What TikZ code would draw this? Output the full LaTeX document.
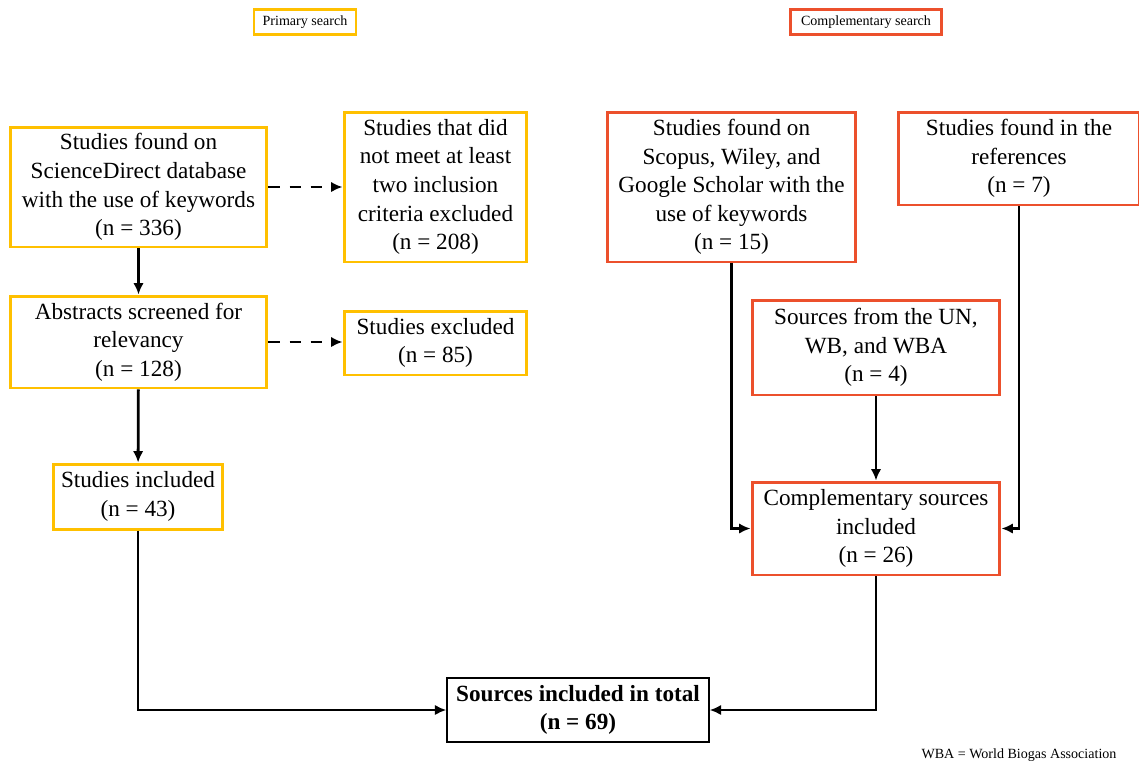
\documentclass[tikz,border=0pt]{standalone}
\usepackage{fontspec}
\setmainfont{Liberation Serif}
\usetikzlibrary{arrows.meta, positioning}
\definecolor{primgold}{RGB}{255,192,0}
\definecolor{compred}{RGB}{236,80,44}

\begin{document}
\begin{tikzpicture}[x=0.02cm, y=-0.02cm,
    box/.style={draw, line width=1.7pt, align=center, inner sep=1pt, font=\fontsize{13.2}{16.3}\selectfont},
    prim/.style={box, draw=primgold},
    comp/.style={box, draw=compred},
    tag/.style={draw, line width=1.3pt, inner sep=2pt, minimum height=0.5cm, font=\fontsize{8}{9}\selectfont},
    flow/.style={line width=1.6pt, -{Latex[length=2.3mm, width=2.1mm]}},
    skip/.style={flow, dash pattern=on 6.5pt off 5.5pt}]
  \useasboundingbox (0,0) rectangle (1139,762);
  % legend
  \node[tag, draw=primgold, minimum width=2.04cm] (primtag) at (305,22) {Primary search};
  \node[tag, draw=compred, minimum width=3.02cm] (comptag) at (866,22) {Complementary search};
  % primary search
  \node[prim, minimum width=5.14cm, minimum height=2.4cm] (found) at (138.5,187)
    {Studies found on\\ ScienceDirect database\\ with the use of keywords\\ (n = 336)};
  \node[prim, minimum width=3.66cm, minimum height=3cm] (notmeet) at (435.5,187)
    {Studies that did\\ not meet at least\\ two inclusion\\ criteria excluded\\ (n = 208)};
  \node[prim, minimum width=5.14cm, minimum height=1.84cm] (abstracts) at (138.5,342)
    {Abstracts screened for\\ relevancy\\ (n = 128)};
  \node[prim, minimum width=3.66cm, minimum height=1.28cm] (excluded) at (435.5,343)
    {Studies excluded\\ (n = 85)};
  \node[prim, minimum width=3.4cm, minimum height=1.3cm] (included) at (138,496.5)
    {Studies included\\ (n = 43)};
  % complementary search
  \node[comp, minimum width=4.98cm, minimum height=3cm] (scopus) at (731.5,187)
    {Studies found on\\ Scopus, Wiley, and\\ Google Scholar with the\\ use of keywords\\ (n = 15)};
  \node[comp, minimum width=4.82cm, minimum height=1.86cm] (refs) at (1019,158.5)
    {Studies found in the\\ references\\ (n = 7)};
  \node[comp, minimum width=4.96cm, minimum height=1.9cm] (un) at (876,347.5)
    {Sources from the UN,\\ WB, and WBA\\ (n = 4)};
  \node[comp, minimum width=4.96cm, minimum height=1.86cm] (compinc) at (876,528.5)
    {Complementary sources\\ included\\ (n = 26)};
  % total
  \node[box, line width=0.8pt, minimum width=5.24cm, minimum height=1.28cm, font=\fontsize{13.2}{16.3}\selectfont\bfseries] (total) at (578,710)
    {Sources included in total\\ (n = 69)};
  \node[font=\fontsize{8}{9}\selectfont, inner sep=0pt] (note) at (1019,755) {WBA = World Biogas Association};
  % connectors
  \draw[flow] (found) -- (abstracts);
  \draw[skip] (found) -- (notmeet);
  \draw[skip] (abstracts.east) -- (excluded.west |- abstracts.east);
  \draw[flow] (abstracts) -- (included);
  \draw[flow] (included.south) |- (total.west);
  \draw[flow] (scopus.south) |- (compinc.west);
  \draw[flow] (refs.south) |- (compinc.east);
  \draw[flow] (un) -- (compinc);
  \draw[flow] (compinc.south) |- (total.east);
\end{tikzpicture}
\end{document}
